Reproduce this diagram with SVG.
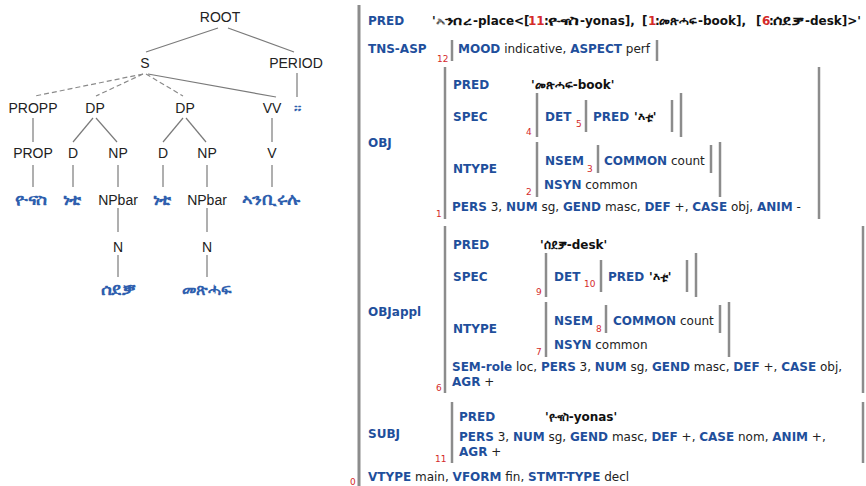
<svg xmlns="http://www.w3.org/2000/svg" width="866" height="486" viewBox="0 0 866 486">
<style>
.t{font-family:"Liberation Sans",Arial,sans-serif;font-size:14px;fill:#222;text-anchor:middle}
.e{font-family:"DejaVu Sans","Noto Sans",sans-serif;font-size:16px;font-weight:bold;fill:#2f5fae;text-anchor:middle}
.ln{stroke:#7a7a7a;stroke-width:1.2;fill:none}
.ds{stroke:#8a8a8a;stroke-width:1.2;stroke-dasharray:5,3;fill:none}
.f{font-family:"DejaVu Sans",Verdana,sans-serif;font-size:12px;fill:#222}
.k{font-weight:bold;fill:#1f4f9c}
.v{font-weight:bold;fill:#111}
.n{font-family:"DejaVu Sans",Verdana,sans-serif;font-size:9px;fill:#d42a2a}
.r{fill:#d42a2a;font-weight:bold}
.b{stroke:#8c8c8c;stroke-width:2.5;fill:none}
.bb{stroke:#8c8c8c;stroke-width:3;fill:none}
</style>
<g id="connectors">
<line class="ln" x1="218" y1="28" x2="146" y2="52"/>
<line class="ln" x1="228" y1="28" x2="294" y2="52"/>
<line class="ds" x1="143" y1="74" x2="35" y2="96"/>
<line class="ds" x1="143" y1="74" x2="96" y2="96"/>
<line class="ds" x1="146" y1="74" x2="183" y2="96"/>
<line class="ln" x1="148" y1="74" x2="276" y2="97"/>
<line class="ln" x1="297" y1="73" x2="297" y2="97"/>
<line class="ln" x1="33" y1="118" x2="33" y2="142"/>
<line class="ln" x1="93" y1="118" x2="73" y2="142"/>
<line class="ln" x1="96" y1="118" x2="117" y2="142"/>
<line class="ln" x1="183" y1="118" x2="163" y2="142"/>
<line class="ln" x1="186" y1="118" x2="206" y2="142"/>
<line class="ln" x1="272" y1="118" x2="272" y2="142"/>
<line class="ln" x1="33" y1="165" x2="33" y2="187"/>
<line class="ln" x1="73" y1="165" x2="73" y2="187"/>
<line class="ln" x1="118" y1="165" x2="118" y2="187"/>
<line class="ln" x1="163" y1="165" x2="163" y2="187"/>
<line class="ln" x1="207" y1="165" x2="207" y2="187"/>
<line class="ln" x1="272" y1="165" x2="272" y2="187"/>
<line class="ln" x1="118" y1="208" x2="118" y2="232"/>
<line class="ln" x1="207" y1="208" x2="207" y2="232"/>
<line class="ln" x1="118" y1="255" x2="118" y2="277"/>
<line class="ln" x1="207" y1="255" x2="207" y2="277"/>
</g>
<g id="n-root"><text class="t" x="220" y="22">ROOT</text></g>
<g id="n-s"><text class="t" x="145" y="68">S</text></g>
<g id="n-period"><text class="t" x="296" y="68">PERIOD</text></g>
<g id="n-propp"><text class="t" x="33" y="113">PROPP</text></g>
<g id="n-dp1"><text class="t" x="95" y="113">DP</text></g>
<g id="n-dp2"><text class="t" x="185" y="113">DP</text></g>
<g id="n-vv"><text class="t" x="272" y="113">VV</text></g>
<g id="n-stop"><text class="e" x="297" y="113">።</text></g>
<g id="n-prop"><text class="t" x="33" y="158">PROP</text></g>
<g id="n-d1"><text class="t" x="73" y="158">D</text></g>
<g id="n-np1"><text class="t" x="118" y="158">NP</text></g>
<g id="n-d2"><text class="t" x="163" y="158">D</text></g>
<g id="n-np2"><text class="t" x="207" y="158">NP</text></g>
<g id="n-v"><text class="t" x="272" y="158">V</text></g>
<g id="n-yonas"><text class="e" x="31" y="205" textLength="32" lengthAdjust="spacingAndGlyphs">ዮናስ</text></g>
<g id="n-neti1"><text class="e" x="72" y="205" textLength="19" lengthAdjust="spacingAndGlyphs">ነቲ</text></g>
<g id="n-npbar1"><text class="t" x="118" y="205">NPbar</text></g>
<g id="n-neti2"><text class="e" x="162" y="205" textLength="19" lengthAdjust="spacingAndGlyphs">ነቲ</text></g>
<g id="n-npbar2"><text class="t" x="207" y="205">NPbar</text></g>
<g id="n-verb"><text class="e" x="271" y="205" textLength="58" lengthAdjust="spacingAndGlyphs">ኣንቢሩሉ</text></g>
<g id="n-n1"><text class="t" x="118" y="252">N</text></g>
<g id="n-n2"><text class="t" x="207" y="252">N</text></g>
<g id="n-desk"><text class="e" x="118" y="295" textLength="35" lengthAdjust="spacingAndGlyphs">ሰደቓ</text></g>
<g id="n-book"><text class="e" x="207" y="295" textLength="50" lengthAdjust="spacingAndGlyphs">መጽሓፍ</text></g>

<g id="fstructure">
<line class="bb" x1="359" y1="5" x2="359" y2="486"/>
<text class="f" x="368" y="25"><tspan class="k">PRED</tspan></text>
<text class="f v" x="432" y="25">'<tspan x="436" textLength="36" lengthAdjust="spacingAndGlyphs">ኣንበረ</tspan><tspan x="473">-place&lt;[</tspan><tspan class="r" x="528">11</tspan><tspan x="544">:</tspan><tspan x="548" textLength="31" lengthAdjust="spacingAndGlyphs">ዮናስ</tspan><tspan x="580">-yonas],</tspan><tspan x="642">[</tspan><tspan class="r" x="648">1</tspan><tspan x="655">:</tspan><tspan x="659" textLength="38" lengthAdjust="spacingAndGlyphs">መጽሓፍ</tspan><tspan x="698">-book],</tspan><tspan x="756">[</tspan><tspan class="r" x="762">6</tspan><tspan x="769">:</tspan><tspan x="773" textLength="31" lengthAdjust="spacingAndGlyphs">ሰደቓ</tspan><tspan x="805">-desk]&gt;'</tspan></text>
<text class="f" x="368" y="53"><tspan class="k">TNS-ASP</tspan></text>
<text class="n" x="437" y="62">12</text>
<line class="b" x1="452" y1="40" x2="452" y2="61"/>
<text class="f" x="458" y="53"><tspan class="k">MOOD</tspan> indicative, <tspan class="k">ASPECT</tspan> perf</text>
<line class="b" x1="657" y1="40" x2="657" y2="61"/>

<text class="f" x="368" y="147"><tspan class="k">OBJ</tspan></text>
<line class="b" x1="445" y1="67" x2="445" y2="219"/>
<line class="b" x1="819" y1="67" x2="819" y2="219"/>
<text class="f" x="453" y="89"><tspan class="k">PRED</tspan></text>
<text class="f v" x="531" y="89">'መጽሓፍ-book'</text>
<text class="f" x="453" y="121"><tspan class="k">SPEC</tspan></text>
<text class="n" x="526" y="135">4</text>
<line class="b" x1="537" y1="93" x2="537" y2="137"/>
<text class="f" x="545" y="121"><tspan class="k">DET</tspan></text>
<text class="n" x="576" y="127">5</text>
<line class="b" x1="586" y1="100" x2="586" y2="132"/>
<text class="f" x="593" y="121"><tspan class="k">PRED</tspan></text>
<text class="f v" x="634" y="121">'እቲ'</text>
<line class="b" x1="672" y1="100" x2="672" y2="132"/>
<line class="b" x1="681" y1="93" x2="681" y2="137"/>
<text class="f" x="453" y="173"><tspan class="k">NTYPE</tspan></text>
<line class="b" x1="537" y1="142" x2="537" y2="197"/>
<text class="f" x="545" y="165"><tspan class="k">NSEM</tspan></text>
<text class="n" x="587" y="172">3</text>
<line class="b" x1="598" y1="145" x2="598" y2="173"/>
<text class="f" x="604" y="165"><tspan class="k">COMMON</tspan> count</text>
<line class="b" x1="711" y1="145" x2="711" y2="173"/>
<line class="b" x1="720" y1="142" x2="720" y2="197"/>
<text class="f" x="544" y="189"><tspan class="k">NSYN</tspan> common</text>
<text class="n" x="526" y="195">2</text>
<text class="n" x="436" y="217">1</text>
<text class="f" x="452" y="211"><tspan class="k">PERS</tspan> 3, <tspan class="k">NUM</tspan> sg, <tspan class="k">GEND</tspan> masc, <tspan class="k">DEF</tspan> +, <tspan class="k">CASE</tspan> obj, <tspan class="k">ANIM</tspan> -</text>

<text class="f" x="368" y="316"><tspan class="k">OBJappl</tspan></text>
<line class="b" x1="445" y1="226" x2="445" y2="393"/>
<line class="b" x1="863" y1="226" x2="863" y2="393"/>
<text class="f" x="453" y="249"><tspan class="k">PRED</tspan></text>
<text class="f v" x="540" y="249">'ሰደቓ-desk'</text>
<text class="f" x="453" y="281"><tspan class="k">SPEC</tspan></text>
<text class="n" x="536" y="295">9</text>
<line class="b" x1="546" y1="253" x2="546" y2="297"/>
<text class="f" x="554" y="281"><tspan class="k">DET</tspan></text>
<text class="n" x="584" y="287">10</text>
<line class="b" x1="601" y1="260" x2="601" y2="292"/>
<text class="f" x="608" y="281"><tspan class="k">PRED</tspan></text>
<text class="f v" x="649" y="281">'እቲ'</text>
<line class="b" x1="687" y1="260" x2="687" y2="292"/>
<line class="b" x1="696" y1="253" x2="696" y2="297"/>
<text class="f" x="453" y="333"><tspan class="k">NTYPE</tspan></text>
<line class="b" x1="546" y1="302" x2="546" y2="357"/>
<text class="f" x="554" y="325"><tspan class="k">NSEM</tspan></text>
<text class="n" x="596" y="332">8</text>
<line class="b" x1="606" y1="305" x2="606" y2="333"/>
<text class="f" x="613" y="325"><tspan class="k">COMMON</tspan> count</text>
<line class="b" x1="720" y1="305" x2="720" y2="333"/>
<line class="b" x1="729" y1="302" x2="729" y2="357"/>
<text class="f" x="554" y="349"><tspan class="k">NSYN</tspan> common</text>
<text class="n" x="536" y="355">7</text>
<text class="f" x="452" y="371"><tspan class="k">SEM-role</tspan> loc, <tspan class="k">PERS</tspan> 3, <tspan class="k">NUM</tspan> sg, <tspan class="k">GEND</tspan> masc, <tspan class="k">DEF</tspan> +, <tspan class="k">CASE</tspan> obj,</text>
<text class="f" x="452" y="386"><tspan class="k">AGR</tspan> +</text>
<text class="n" x="436" y="391">6</text>

<text class="f" x="368" y="438"><tspan class="k">SUBJ</tspan></text>
<line class="b" x1="452" y1="402" x2="452" y2="463"/>
<line class="b" x1="863" y1="402" x2="863" y2="463"/>
<text class="f" x="459" y="421"><tspan class="k">PRED</tspan></text>
<text class="f v" x="545" y="421">'ዮናስ-yonas'</text>
<text class="f" x="459" y="441"><tspan class="k">PERS</tspan> 3, <tspan class="k">NUM</tspan> sg, <tspan class="k">GEND</tspan> masc, <tspan class="k">DEF</tspan> +, <tspan class="k">CASE</tspan> nom, <tspan class="k">ANIM</tspan> +,</text>
<text class="f" x="459" y="456"><tspan class="k">AGR</tspan> +</text>
<text class="n" x="435" y="462">11</text>
<text class="f" x="368" y="481"><tspan class="k">VTYPE</tspan> main, <tspan class="k">VFORM</tspan> fin, <tspan class="k">STMT-TYPE</tspan> decl</text>
<text class="n" x="350" y="485">0</text>
</g>
</svg>
